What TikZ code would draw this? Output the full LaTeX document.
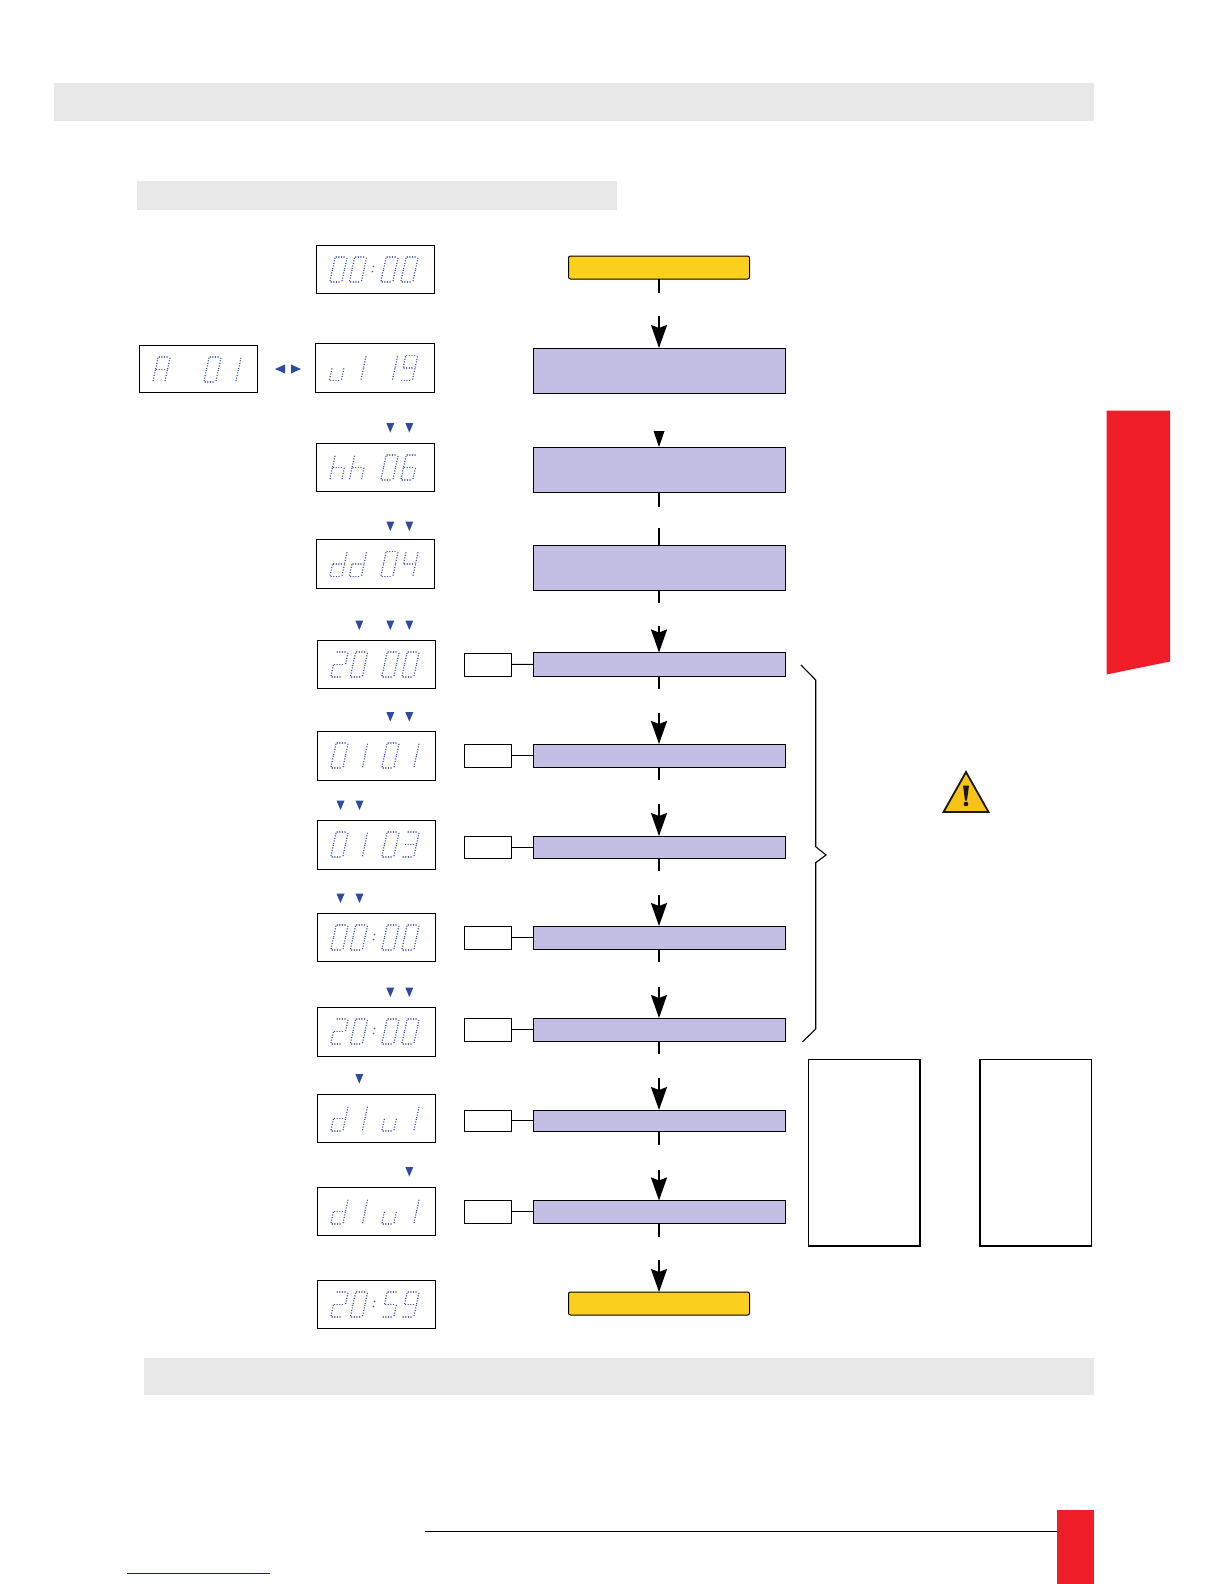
\documentclass[tikz,border=0pt]{standalone}
\usetikzlibrary{arrows.meta,calc}
\definecolor{greybar}{HTML}{E8E8E8}
\definecolor{lilac}{HTML}{C3BEE3}
\definecolor{gold}{HTML}{FBCF1E}
\definecolor{warn}{HTML}{F8C316}
\definecolor{redm}{HTML}{EE1D27}
\definecolor{ledblue}{HTML}{3A4FA8}
\definecolor{triblue}{HTML}{2F4A9E}
\definecolor{linkblue}{HTML}{16169A}
\tikzset{
  box/.style={draw=black,line width=1pt,inner sep=0pt,outer sep=0pt},
  disp/.style={box,fill=white},
  lil/.style={box,fill=lilac},
  yel/.style={box,fill=gold,rounded corners=2pt},
  tag/.style={box,fill=white},
  tall/.style={box,fill=white,line width=1.2pt},
  seg/.style={draw=ledblue,line width=1.5pt,line cap=round,dash pattern=on 0.01pt off 2.6pt},
  stub/.style={draw=black,line width=2pt},
  arrowdn/.style={draw=black,line width=2pt,-{Stealth[length=23pt,width=16pt,inset=3pt]}},
  link/.style={draw=black,line width=1pt},
  tri/.style={fill=triblue,draw=none},
}
% box by corners: name, style, x1, y1, x2, y2
\newcommand{\bx}[6]{%
  \pgfmathsetmacro{\bxw}{#5-#3}\pgfmathsetmacro{\bxh}{#6-#4}%
  \pgfmathsetmacro{\bxx}{(#3+#5)/2}\pgfmathsetmacro{\bxy}{(#4+#6)/2}%
  \node[#2,minimum width=\bxw pt,minimum height=\bxh pt] (#1) at (\bxx,\bxy) {};}
% segments of a digit cell
\newcommand{\sga}{\draw[seg] (6.2,0)--(16,0);}
\newcommand{\sgb}{\draw[seg] (16.9,1.3)--(14.7,11.6);}
\newcommand{\sgc}{\draw[seg] (14.3,13.4)--(12.1,23.7);}
\newcommand{\sgd}{\draw[seg] (1.2,25)--(11,25);}
\newcommand{\sge}{\draw[seg] (2.3,13.4)--(0.1,23.7);}
\newcommand{\sgf}{\draw[seg] (4.9,1.3)--(2.7,11.6);}
\newcommand{\sgg}{\draw[seg] (3.6,12.5)--(13.4,12.5);}
\newcommand{\dfg}[2]{\expandafter\def\csname gly#1\endcsname{#2}}
\dfg{0}{\sga\sgb\sgc\sgd\sge\sgf}
\dfg{1}{\sgb\sgc}
\dfg{2}{\sga\sgb\sgg\sge\sgd}
\dfg{3}{\sga\sgb\sgg\sgc\sgd}
\dfg{4}{\sgf\sgg\sgb\sgc}
\dfg{5}{\sga\sgf\sgg\sgc\sgd}
\dfg{6}{\sga\sgf\sgg\sge\sgc\sgd}
\dfg{9}{\sga\sgb\sgc\sgd\sgf\sgg}
\dfg{A}{\sga\sgb\sgc\sge\sgf\sgg}
\dfg{h}{\sgf\sge\sgg\sgc}
\dfg{d}{\sgb\sgc\sgd\sge\sgg}
\dfg{u}{\sge\sgd\sgc}
\dfg{x}{}
% readout: left x, top y of frame, four glyphs
\newcommand{\ledcell}[3]{\begin{scope}[shift={(#1,#2)}]\csname gly#3\endcsname\end{scope}}
\newcommand{\readout}[6]{%
  \pgfmathsetmacro{\rx}{#1}\pgfmathsetmacro{\ry}{#2+12}%
  \pgfmathsetmacro{\ra}{\rx+14}\pgfmathsetmacro{\rb}{\rx+33.5}%
  \pgfmathsetmacro{\rc}{\rx+65}\pgfmathsetmacro{\rd}{\rx+85}%
  \ledcell{\ra}{\ry}{#3}\ledcell{\rb}{\ry}{#4}\ledcell{\rc}{\ry}{#5}\ledcell{\rd}{\ry}{#6}}
\newcommand{\ledcolon}[2]{\fill[ledblue] (#1+57.5,#2+21.5) circle (0.8) (#1+56.5,#2+26.5) circle (0.8);}
\newcommand{\trid}[2]{\fill[tri] (#1-4,#2)--(#1+4,#2)--(#1,#2+9.5)--cycle;}
\begin{document}
\begin{tikzpicture}[x=1pt,y=-1pt]
\useasboundingbox (0,0) rectangle (1224,1584);
\fill[white] (0,0) rectangle (1224,1584);
% grey bars
\fill[greybar] (53.5,83) rectangle (1094,121);
\fill[greybar] (136.5,181) rectangle (617,210);
\fill[greybar] (143.5,1357.5) rectangle (1094,1395);
% red marks
\fill[redm] (1106.5,410.5)--(1170,410.5)--(1170,661.5)--(1106.5,674.5)--cycle;
\draw[black,line width=1pt] (425,1531)--(1057,1531);
\fill[redm] (1057,1510) rectangle (1094,1584);
\draw[linkblue,line width=1.3pt] (127,1573.5)--(270,1573.5);
% readout frames
\bx{d0}{disp}{316}{245}{434.5}{293}
\bx{dA}{disp}{139}{345}{257}{392.5}
\bx{d1}{disp}{315.5}{343.5}{434.5}{392}
\bx{d2}{disp}{316}{443}{434.5}{491}
\bx{d3}{disp}{316}{539.5}{434.5}{588}
\bx{d4}{disp}{317}{640}{435.5}{688}
\bx{d5}{disp}{317}{731}{435.5}{780}
\bx{d6}{disp}{317}{820}{435.5}{869}
\bx{d7}{disp}{317}{913}{435.5}{961}
\bx{d8}{disp}{317}{1007}{435.5}{1056}
\bx{d9}{disp}{317}{1094}{435.5}{1142}
\bx{d10}{disp}{317}{1187}{435.5}{1235}
\bx{d11}{disp}{317}{1280}{435.5}{1328}
% readout contents
\readout{316}{245}{0}{0}{0}{0}\ledcolon{316}{245}
\readout{139}{345}{A}{x}{0}{1}
\readout{315.5}{343.5}{u}{1}{1}{9}
\readout{316}{443}{h}{h}{0}{6}
\readout{316}{539.5}{d}{d}{0}{4}
\readout{317}{640}{2}{0}{0}{0}
\readout{317}{731}{0}{1}{0}{1}
\readout{317}{820}{0}{1}{0}{3}
\readout{317}{913}{0}{0}{0}{0}\ledcolon{317}{913}
\readout{317}{1007}{2}{0}{0}{0}\ledcolon{317}{1007}
\readout{317}{1094}{d}{1}{u}{1}
\readout{317}{1187}{d}{1}{u}{1}
\readout{317}{1280}{2}{0}{5}{9}\ledcolon{317}{1280}
% blue triangles
\fill[tri] (285,364.5)--(285,373.5)--(275,369)--cycle;
\fill[tri] (291,364.5)--(291,373.5)--(301,369)--cycle;
\trid{390.3}{423}\trid{409.3}{423}
\trid{390.3}{521.5}\trid{409.3}{521.5}
\trid{359.3}{620.5}\trid{390.3}{620.5}\trid{409.3}{620.5}
\trid{390.3}{712}\trid{409.3}{712}
\trid{340.5}{800.5}\trid{359.5}{800.5}
\trid{340.5}{893.5}\trid{359.5}{893.5}
\trid{390.3}{987.5}\trid{409.3}{987.5}
\trid{359.3}{1074}
\trid{409.3}{1167}
% flow boxes
\bx{s0}{yel}{568.5}{256}{749.5}{279}
\bx{p1}{lil}{533}{348}{785}{393}
\bx{p2}{lil}{533}{447}{785}{492}
\bx{p3}{lil}{533}{545}{785}{590}
\bx{r1}{lil}{533}{652.5}{785}{676}
\bx{r2}{lil}{533}{744}{785}{767.5}
\bx{r3}{lil}{533}{836}{785}{858.5}
\bx{r4}{lil}{533}{926}{785}{949}
\bx{r5}{lil}{533}{1018}{785}{1041}
\bx{r6}{lil}{533}{1110}{785}{1131}
\bx{r7}{lil}{533}{1200.5}{785}{1223}
\bx{s1}{yel}{568.5}{1292}{749.5}{1315}
% tags
\bx{t1}{tag}{464}{653}{511}{676}
\bx{t2}{tag}{464}{744}{511}{767.5}
\bx{t3}{tag}{464}{836}{511}{858.5}
\bx{t4}{tag}{464}{926}{511}{949}
\bx{t5}{tag}{464}{1018}{511}{1041}
\bx{t6}{tag}{464}{1110}{511}{1131}
\bx{t7}{tag}{464}{1200.5}{511}{1223}
\foreach \i in {1,...,7} {\draw[link] (t\i.east) -- (r\i.west);}
% side panels
\bx{n1}{tall}{808.5}{1059.5}{920}{1246}
\bx{n2}{tall}{980}{1059.5}{1091.5}{1246}
% broken connectors: free ends
\coordinate (a0) at (659,293);  \coordinate (b0) at (659,316);
\coordinate (a2) at (659,507);  \coordinate (b2) at (659,528);
\coordinate (a3) at (659,603);  \coordinate (b3) at (659,626);
\coordinate (a4) at (659,689);  \coordinate (b4) at (659,713);
\coordinate (a5) at (659,780);  \coordinate (b5) at (659,804);
\coordinate (a6) at (659,871);  \coordinate (b6) at (659,895);
\coordinate (a7) at (659,962);  \coordinate (b7) at (659,987);
\coordinate (a8) at (659,1054); \coordinate (b8) at (659,1078);
\coordinate (a9) at (659,1145); \coordinate (b9) at (659,1169.5);
\coordinate (a10) at (659,1237);\coordinate (b10) at (659,1260);
\draw[stub] (s0.south) -- (a0); \draw[arrowdn] (b0) -- (p1.north);
\fill[black] (653.5,431)--(664.5,431)--(659,447)--cycle;
\draw[stub] (p2.south) -- (a2); \draw[stub] (b2) -- (p3.north);
\draw[stub] (p3.south) -- (a3); \draw[arrowdn] (b3) -- (r1.north);
\draw[stub] (r1.south) -- (a4); \draw[arrowdn] (b4) -- (r2.north);
\draw[stub] (r2.south) -- (a5); \draw[arrowdn] (b5) -- (r3.north);
\draw[stub] (r3.south) -- (a6); \draw[arrowdn] (b6) -- (r4.north);
\draw[stub] (r4.south) -- (a7); \draw[arrowdn] (b7) -- (r5.north);
\draw[stub] (r5.south) -- (a8); \draw[arrowdn] (b8) -- (r6.north);
\draw[stub] (r6.south) -- (a9); \draw[arrowdn] (b9) -- (r7.north);
\draw[stub] (r7.south) -- (a10); \draw[arrowdn] (b10) -- (s1.north);
% brace
\draw[black,line width=1.1pt] (801,665)--(815.7,680)--(815.7,846.7)--(826,855)--(815.7,862.7)--(815.7,1029)--(802.3,1042);
% warning sign
\draw[fill=warn,draw=black!90,line width=1.8pt,line join=miter] (966,772)--(943.5,812)--(988.5,812)--cycle;
\fill[black!90] (963,785.5)--(969,785.5)--(967,800.5)--(965,800.5)--cycle;
\fill[black!90] (966,804) circle (2.3);
\end{tikzpicture}
\end{document}
